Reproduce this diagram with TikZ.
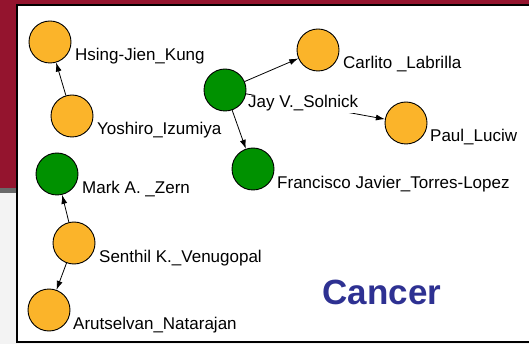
\documentclass[tikz,border=0pt]{standalone}
\usepackage{fontspec}
\setmainfont{Liberation Sans}
\usetikzlibrary{arrows.meta}
\definecolor{bgred}{RGB}{148,20,46}
\definecolor{bggray}{RGB}{243,243,243}
\definecolor{bandgray}{RGB}{105,105,105}
\definecolor{nodeorange}{RGB}{251,180,42}
\definecolor{nodegreen}{RGB}{0,145,0}
\definecolor{titleblue}{RGB}{46,49,146}
\tikzset{
  person/.style={circle, draw=black, line width=0.9pt, minimum size=42pt, inner sep=0pt},
  orangenode/.style={person, fill=nodeorange},
  greennode/.style={person, fill=nodegreen},
  namelabel/.style={anchor=base west, fill=white, inner sep=1pt, font=\fontsize{17}{18}\selectfont},
  link/.style={draw=black, line width=0.8pt, -{Latex[length=9pt,width=6pt]}},
}
\begin{document}
\begin{tikzpicture}[x=1pt,y=-1pt]
\useasboundingbox (0,0) rectangle (529,344);
% background
\fill[bgred] (0,0) rectangle (529,188);
\fill[bandgray] (0,188) rectangle (17,193);
\fill[bggray] (0,193) rectangle (529,344);
\fill[white] (17,5) rectangle (529,342);
\draw[line width=2pt] (531,5) -- (17,5) -- (17,342) -- (531,342);
% nodes
\node[orangenode] (hsing) at (50,42) {};
\node[orangenode] (yoshiro) at (72,116) {};
\node[greennode] (jay) at (225,90) {};
\node[orangenode] (carlito) at (318,50) {};
\node[orangenode] (paul) at (406,123) {};
\node[greennode] (francisco) at (253,169) {};
\node[greennode] (mark) at (57,174) {};
\node[orangenode] (senthil) at (74,243) {};
\node[orangenode] (arutselvan) at (49,310) {};
% edges
\draw[link] (yoshiro) -- (hsing);
\draw[link] (jay) -- (carlito);
\draw[link] (jay) -- (paul);
\draw[link] (jay) -- (francisco);
\draw[link] (senthil) -- (mark);
\draw[link] (senthil) -- (arutselvan);
% labels
\node[namelabel] (hsingL) at (74,61) {Hsing-Jien\_Kung};
\node[namelabel] (yoshiroL) at (96,135) {Yoshiro\_Izumiya};
\node[namelabel] (jayL) at (247,108) {Jay V.\_Solnick};
\node[namelabel] (carlitoL) at (342,69) {Carlito \_Labrilla};
\node[namelabel] (paulL) at (429,142) {Paul\_Luciw};
\node[namelabel] (franciscoL) at (276,189) {Francisco Javier\_Torres-Lopez};
\node[namelabel] (markL) at (81,194) {Mark A. \_Zern};
\node[namelabel] (senthilL) at (98,262) {Senthil K.\_Venugopal};
\node[namelabel] (arutselvanL) at (72,329) {Arutselvan\_Natarajan};
\node[anchor=base, text=titleblue, font=\fontsize{35}{36}\selectfont\bfseries] (title) at (382,304) {Cancer};
\end{tikzpicture}
\end{document}
